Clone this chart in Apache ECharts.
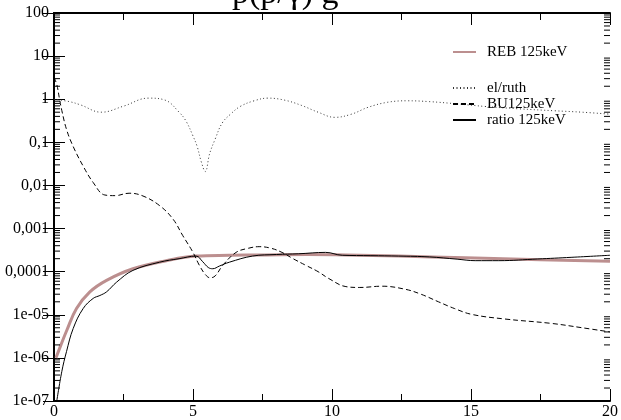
<!DOCTYPE html>
<html>
<head>
<meta charset="utf-8">
<script src="https://cdn.jsdelivr.net/npm/echarts@6/dist/echarts.min.js"></script>
<style>
  html, body { margin: 0; padding: 0; background: #fff; }
  #main { width: 621px; height: 420px; }
</style>
</head>
<body>
<div id="main"></div>
<script>
// x ticks and y tick labels (decades 1e-7 .. 100)
var xTicks = [0, 5, 10, 15, 20];
var yTickLabels = ['1e-07', '1e-06', '1e-05', '0,0001', '0,001', '0,01', '0,1', '1', '10', '100'];

// el/ruth (dotted)
var elX = [0, 0.55, 0.95, 1.7, 2.5, 3.4, 4.0, 4.5, 4.75, 5.0, 5.15, 5.3, 5.44, 5.6, 5.8, 6.05, 6.35, 6.7, 7.2, 7.7, 8.3, 8.9, 9.5, 10.1, 10.7, 11.3, 12.0, 12.7, 13.5, 14.5, 15.5, 16.7, 18.0, 19.0, 20];
var elY = [1.0, 0.88, 0.74, 0.50, 0.69, 1.06, 0.95, 0.50, 0.31, 0.14, 0.08, 0.035, 0.021, 0.055, 0.12, 0.28, 0.45, 0.68, 0.92, 1.06, 0.95, 0.72, 0.5, 0.38, 0.45, 0.65, 0.85, 0.92, 0.88, 0.78, 0.68, 0.6, 0.54, 0.5, 0.45];

// BU125keV (dashed)
var buX = [0, 0.1, 0.2, 0.28, 0.45, 0.69, 1.05, 1.41, 1.83, 2.2, 2.7, 3.2, 3.8, 4.28, 4.63, 5.0, 5.23, 5.45, 5.62, 5.8, 6.07, 6.55, 7.0, 7.38, 7.8, 8.2, 8.6, 9.06, 9.5, 9.89, 10.5, 11.0, 11.8, 12.64, 13.2, 13.83, 14.4, 15.03, 16.2, 17.9, 19.0, 20];
var buY = [3.2, 2.2, 1.0, 0.55, 0.2, 0.08, 0.028, 0.0117, 0.006, 0.0058, 0.0066, 0.0057, 0.0034, 0.00166, 0.00069, 0.00028, 0.00014, 0.000085, 0.000072, 0.00008, 0.00014, 0.00028, 0.00035, 0.00038, 0.00035, 0.00028, 0.0002, 0.00014, 0.0001, 0.000069, 0.000045, 0.000043, 0.000046, 0.000039, 0.00003, 0.00002, 0.000014, 0.0000102, 0.000008, 0.0000063, 0.000005, 0.000004];

// ratio 125keV (solid)
var ratioX = [0.1, 0.28, 0.45, 0.69, 1.05, 1.41, 1.65, 1.89, 2.25, 2.84, 3.8, 4.5, 5.11, 5.35, 5.55, 5.71, 5.95, 6.31, 7.14, 8.0, 8.8, 9.77, 10.37, 11.4, 12.4, 13.5, 14.5, 15.15, 16.0, 17.4, 18.6, 20];
var ratioY = [1.0e-7, 4.8e-7, 1.4e-6, 4.8e-6, 1.4e-5, 2.4e-5, 2.8e-5, 3.4e-5, 5.7e-5, 1.07e-4, 1.66e-4, 2.0e-4, 2.3e-4, 1.7e-4, 1.25e-4, 1.17e-4, 1.35e-4, 1.66e-4, 2.3e-4, 2.5e-4, 2.6e-4, 2.8e-4, 2.4e-4, 2.35e-4, 2.3e-4, 2.2e-4, 1.95e-4, 1.8e-4, 1.8e-4, 1.97e-4, 2.15e-4, 2.4e-4];

// REB 125keV (thick)
var rebX = [0.07, 0.25, 0.45, 0.81, 1.29, 1.89, 2.84, 4.04, 5.11, 6.3, 7.62, 9.1, 10.5, 12.4, 14.8, 17.5, 20];
var rebY = [1.0e-6, 2.0e-6, 4.2e-6, 1.4e-5, 3.4e-5, 6.3e-5, 1.17e-4, 1.8e-4, 2.3e-4, 2.4e-4, 2.45e-4, 2.5e-4, 2.45e-4, 2.3e-4, 2.1e-4, 1.9e-4, 1.74e-4];

function zip(xs, ys) {
  return xs.map(function (x, i) { return [x, ys[i]]; });
}

// minor log ticks 2..9 in every decade
var minorTicks = [];
for (var e = -7; e < 2; e++) {
  for (var m = 2; m <= 9; m++) minorTicks.push([m * Math.pow(10, e)]);
}

var FONT = 'Liberation Serif';
var chart = echarts.init(document.getElementById('main'), null, { renderer: 'canvas' });

function yLabel(v) {
  var i = Math.round(Math.log10(v)) + 7;
  return yTickLabels[i] || '';
}

// legend: line sample only, no marker
var legendBase = {
  left: 452, padding: 0,
  itemWidth: 23, itemHeight: 10,
  itemStyle: { color: 'rgba(0,0,0,0)', borderColor: 'rgba(0,0,0,0)', borderWidth: 0 },
  textStyle: { fontFamily: FONT, fontSize: 15, lineHeight: 16, color: '#000', padding: [0, 0, 0, 6] }
};

var option = {
  animation: false,
  backgroundColor: '#fff',
  grid: { left: 54, right: 9, top: 13, bottom: 17 },
  graphic: [{
    type: 'text', x: 232, y: 11,
    style: { text: 'p(p/γ) g', font: '34px "Liberation Serif"', fill: '#000', verticalAlign: 'bottom' }
  }],
  legend: [
    Object.assign({}, legendBase, { data: ['REB 125keV'], top: 44 }),
    Object.assign({}, legendBase, {
      data: ['el/ruth', 'BU125keV', 'ratio 125keV'],
      orient: 'vertical', top: 80, itemGap: 0
    })
  ],
  xAxis: [{
    type: 'value', min: 0, max: 20, interval: 5,
    axisLine: { lineStyle: { color: '#000', width: 2 } },
    axisTick: { inside: true, length: 12, lineStyle: { color: '#000', width: 1 } },
    minorTick: { show: true, splitNumber: 2, length: 7, lineStyle: { color: '#000' } },
    splitLine: { show: false },
    axisLabel: {
      margin: 3, fontFamily: FONT, fontSize: 16, color: '#000',
      formatter: function (v) { return xTicks.indexOf(v) >= 0 ? String(v) : ''; }
    }
  }, {
    type: 'value', min: 0, max: 20, interval: 5, position: 'top',
    axisLine: { lineStyle: { color: '#000', width: 2 } },
    axisTick: { inside: true, length: 12, lineStyle: { color: '#000', width: 1 } },
    minorTick: { show: true, splitNumber: 2, length: 7, lineStyle: { color: '#000' } },
    splitLine: { show: false },
    axisLabel: { show: false }
  }],
  yAxis: [{
    type: 'log', logBase: 10, min: 1e-7, max: 100, interval: 1,
    axisLine: { show: true, lineStyle: { color: '#000', width: 2 } },
    axisTick: { show: true, inside: true, length: 11, lineStyle: { color: '#000', width: 1 } },
    splitLine: { show: false },
    axisLabel: { margin: 5, fontFamily: FONT, fontSize: 16, color: '#000', formatter: yLabel }
  }, {
    type: 'log', logBase: 10, min: 1e-7, max: 100, interval: 1, position: 'right',
    axisLine: { show: true, lineStyle: { color: '#000', width: 2 } },
    axisTick: { show: true, inside: true, length: 11, lineStyle: { color: '#000', width: 1 } },
    splitLine: { show: false },
    axisLabel: { show: false }
  }],
  series: [{
    name: 'REB 125keV', type: 'line', data: zip(rebX, rebY),
    symbol: 'none', smooth: 0.4, z: 2,
    lineStyle: { color: '#bc8f8f', width: 3 }, itemStyle: { color: '#bc8f8f' }
  }, {
    name: 'el/ruth', type: 'line', data: zip(elX, elY),
    symbol: 'none', smooth: 0.4, z: 3,
    lineStyle: { color: '#333', width: 1, type: [1, 2.5] }, itemStyle: { color: '#333' }
  }, {
    name: 'BU125keV', type: 'line', data: zip(buX, buY),
    symbol: 'none', smooth: 0.4, z: 3,
    lineStyle: { color: '#000', width: 1, type: [5, 3] }, itemStyle: { color: '#000' }
  }, {
    name: 'ratio 125keV', type: 'line', data: zip(ratioX, ratioY),
    symbol: 'none', smooth: 0.4, z: 4,
    lineStyle: { color: '#000', width: 1 }, itemStyle: { color: '#000' }
  }, {
    // minor ticks of the log axes, placed through the y scale
    type: 'custom', silent: true, clip: false, z: 10,
    data: minorTicks,
    encode: { y: 0 },
    renderItem: function (params, api) {
      var v = api.value(0);
      var pL = api.coord([0, v]);
      var pR = api.coord([20, v]);
      var st = { stroke: '#000', lineWidth: 1 };
      return {
        type: 'group', children: [
          { type: 'line', shape: { x1: pL[0], y1: pL[1], x2: pL[0] + 6, y2: pL[1] }, style: st },
          { type: 'line', shape: { x1: pR[0] - 6, y1: pR[1], x2: pR[0], y2: pR[1] }, style: st }
        ]
      };
    }
  }]
};

chart.setOption(option);
</script>
</body>
</html>
